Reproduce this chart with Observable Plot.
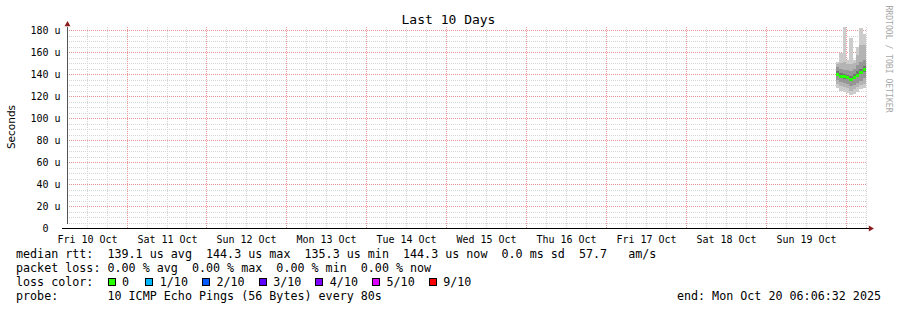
<!DOCTYPE html>
<html><head><meta charset="utf-8">
<script src="https://cdn.jsdelivr.net/npm/d3@7"></script>
<script src="https://cdn.jsdelivr.net/npm/@observablehq/plot@0.6"></script>
<style>
html,body{margin:0;padding:0;background:#fff;}
#wrap{position:relative;width:897px;height:310px;overflow:hidden;background:#fff;font-family:"DejaVu Sans Mono",monospace;color:#000;}
#wrap svg{position:absolute;left:0;top:0;}
.t{position:absolute;white-space:pre;}
.leg{left:16px;font-size:11.7px;line-height:14px;}
.box{display:inline-block;width:6px;height:6px;border:1px solid #000;}
.item{display:inline-block;}
</style></head><body><div id="wrap"></div>
<script>
// ---- data ----
const endTime = new Date("2025-10-20T06:06:32Z");
const startTime = new Date(endTime.getTime() - 10 * 864e5);
const xTickTimes = ["2025-10-10T12:00Z","2025-10-11T12:00Z","2025-10-12T12:00Z","2025-10-13T12:00Z","2025-10-14T12:00Z",
  "2025-10-15T12:00Z","2025-10-16T12:00Z","2025-10-17T12:00Z","2025-10-18T12:00Z","2025-10-19T12:00Z"].map(s => new Date(s));
const xTickLabels = ["Fri 10 Oct","Sat 11 Oct","Sun 12 Oct","Mon 13 Oct","Tue 14 Oct","Wed 15 Oct","Thu 16 Oct","Fri 17 Oct","Sat 18 Oct","Sun 19 Oct"];
const yTicks = [0,20,40,60,80,100,120,140,160,180];
const yTickLabels = ["0\u00a0\u00a0","20 u","40 u","60 u","80 u","100 u","120 u","140 u","160 u","180 u"];
const yTop = 183.7;

// hourly columns (start times), values in microseconds
const colStart = ["2025-10-19T21:06:32Z","2025-10-19T22:06:32Z","2025-10-19T23:06:32Z","2025-10-20T00:06:32Z",
  "2025-10-20T01:06:32Z","2025-10-20T02:06:32Z","2025-10-20T03:06:32Z","2025-10-20T04:06:32Z","2025-10-20T05:06:32Z"];
const medianRtt = [140.5,138.5,137.8,137.2,135.3,137.5,139.5,142.0,144.3];
const pings = [
  [127,131,135,138.5,140,141,142.5,146,149,151],
  [125,129,133,136.5,138,139,141,145,150,159],
  [124,128,132,135.8,137.3,138.3,140,144,151,183],
  [123,127,131,135.2,136.7,137.7,139.5,143.5,149,153],
  [121,125,129,133.3,134.8,135.8,138,142.5,149,173],
  [122,126,130,135.5,137,138,140,144.5,150,153],
  [124,128,132,137.5,139,140,142.5,148,157,165],
  [126,130,134,140,141.5,142.5,145,151,166,182],
  [127,131,136,142.3,143.8,144.8,147,153,166,176]
];
const smokeShades = ["#cccccc","#b4b4b4","#969696","#727272","#404040"];

const rttStats = ["139.1","144.3","135.3","144.3"];
const rttSd = "0.0";
const rttAmS = "57.7";
const lossStats = ["0.00","0.00","0.00","0.00"];
const lossLabels = ["0","1/10","2/10","3/10","4/10","5/10","9/10"];
const lossColors = ["#26ff00","#00b8ff","#0059ff","#5e00ff","#7e00ff","#dd00ff","#ff0000"];
const probeText = "10 ICMP Echo Pings (56 Bytes) every 80s";
const endText = "end: Mon Oct 20 06:06:32 2025";

// ---- derived tables ----
const cols = colStart.map((s, i) => {
  const x1 = new Date(s);
  return {x1, x2: d3.utcHour.offset(x1, 1), m: medianRtt[i], p: pings[i]};
});
const smoke = [];
cols.forEach(c => {
  for (let k = 0; k < 5; k++) smoke.push({x1: c.x1, x2: c.x2, lo: c.p[k], hi: c.p[9 - k], shade: smokeShades[k]});
});
const minorY = d3.range(5, yTop, 5).filter(v => v % 20 !== 0);
const majorY = d3.range(20, yTop, 20);
const minorX = d3.utcHour.every(6).range(startTime, endTime).filter(d => d.getUTCHours() !== 0);
const majorX = d3.utcDay.range(startTime, endTime);

const gridMinor = "#d6d6d6", gridMajor = "#e89595";

const chart = Plot.plot({
  width: 897, height: 250,
  marginLeft: 67, marginRight: 31, marginTop: 26, marginBottom: 22,
  x: {type: "utc", domain: [startTime, endTime], round: true},
  y: {domain: [0, yTop], round: true},
  color: {type: "identity"},
  style: {fontFamily: "'DejaVu Sans Mono', monospace", fontSize: "10px", background: "transparent", color: "#000", overflow: "visible"},
  marks: [
    Plot.ruleY(minorY, {stroke: gridMinor, strokeDasharray: "1,1", shapeRendering: "crispEdges"}),
    Plot.ruleX(minorX, {y1: 0, y2: yTop, stroke: gridMinor, strokeDasharray: "1,1", shapeRendering: "crispEdges"}),
    Plot.ruleY(majorY, {stroke: gridMajor, strokeDasharray: "1,1", shapeRendering: "crispEdges"}),
    Plot.ruleX(majorX, {y1: 0, y2: yTop, stroke: gridMajor, strokeDasharray: "1,1", shapeRendering: "crispEdges"}),
    Plot.rect(smoke, {x1: "x1", x2: "x2", y1: "lo", y2: "hi", fill: "shade", shapeRendering: "crispEdges"}),
    Plot.rect(cols, {x1: "x1", x2: "x2", y1: "m", y2: "m", insetTop: -1.5, insetBottom: -1.5, fill: lossColors[0], shapeRendering: "crispEdges"}),
    Plot.ruleX([startTime], {y1: 0, y2: yTop, insetTop: -4, insetBottom: -1, stroke: "#555", shapeRendering: "crispEdges"}),
    Plot.ruleY([0], {x1: startTime, x2: endTime, insetLeft: -5, insetRight: -3, stroke: "#000", shapeRendering: "crispEdges"}),
    Plot.dot([startTime], {x: d => d, y: yTop, symbol: "triangle", r: 2.2, fill: "#8b1c1c", dy: -2}),
    Plot.dot([endTime], {x: d => d, y: 0, symbol: "triangle", r: 2.2, rotate: 90, fill: "#8b1c1c", dx: 4}),
    Plot.axisY(yTicks, {tickSize: 0, tickPadding: 7, tickFormat: d => yTickLabels[yTicks.indexOf(d)], label: null}),
    Plot.axisX(xTickTimes, {tickSize: 0, tickPadding: 7, tickFormat: d => xTickLabels[xTickTimes.findIndex(t => +t === +d)], label: null})
  ]
});
const wrap = document.getElementById("wrap");
wrap.appendChild(chart);

function addDiv(cls, style, html) {
  const el = document.createElement("div");
  el.className = "t " + cls;
  el.setAttribute("style", style);
  el.innerHTML = html;
  wrap.appendChild(el);
  return el;
}
addDiv("", "left:0;width:897px;text-align:center;top:13px;font-size:13px;line-height:13px;", "Last 10 Days");
addDiv("", "left:11px;top:126.5px;font-family:'DejaVu Sans',sans-serif;font-size:10.5px;line-height:12px;transform:translate(-50%,-50%) rotate(-90deg);", "Seconds");
addDiv("", "left:887.5px;top:58.5px;font-size:8.1px;line-height:9px;color:#a8a8a8;transform:translate(-50%,-50%) rotate(90deg);", "RRDTOOL / TOBI OETIKER");

addDiv("leg", "top:247px;", `median rtt:  ${rttStats[0]} us avg  ${rttStats[1]} us max  ${rttStats[2]} us min  ${rttStats[3]} us now  ${rttSd} ms sd  ${rttAmS}   am/s`);
addDiv("leg", "top:261px;", `packet loss: ${lossStats[0]} % avg  ${lossStats[1]} % max  ${lossStats[2]} % min  ${lossStats[3]} % now`);
const itemWidths = [37.7, 56.7, 56.7, 56.7, 56.7, 56.7, 60];
let lc = `<span class="item" style="width:91.7px">loss color:</span>`;
lossLabels.forEach((l, i) => {
  lc += `<span class="item" style="width:${itemWidths[i]}px"><span class="box" style="background:${lossColors[i]}"></span><span style="margin-left:6.4px">${l}</span></span>`;
});
addDiv("leg", "top:275px;", lc);
addDiv("leg", "top:289px;", `probe:       ${probeText}`);
addDiv("", "top:289px;right:16px;font-size:11.7px;line-height:14px;", endText);
</script></body></html>
